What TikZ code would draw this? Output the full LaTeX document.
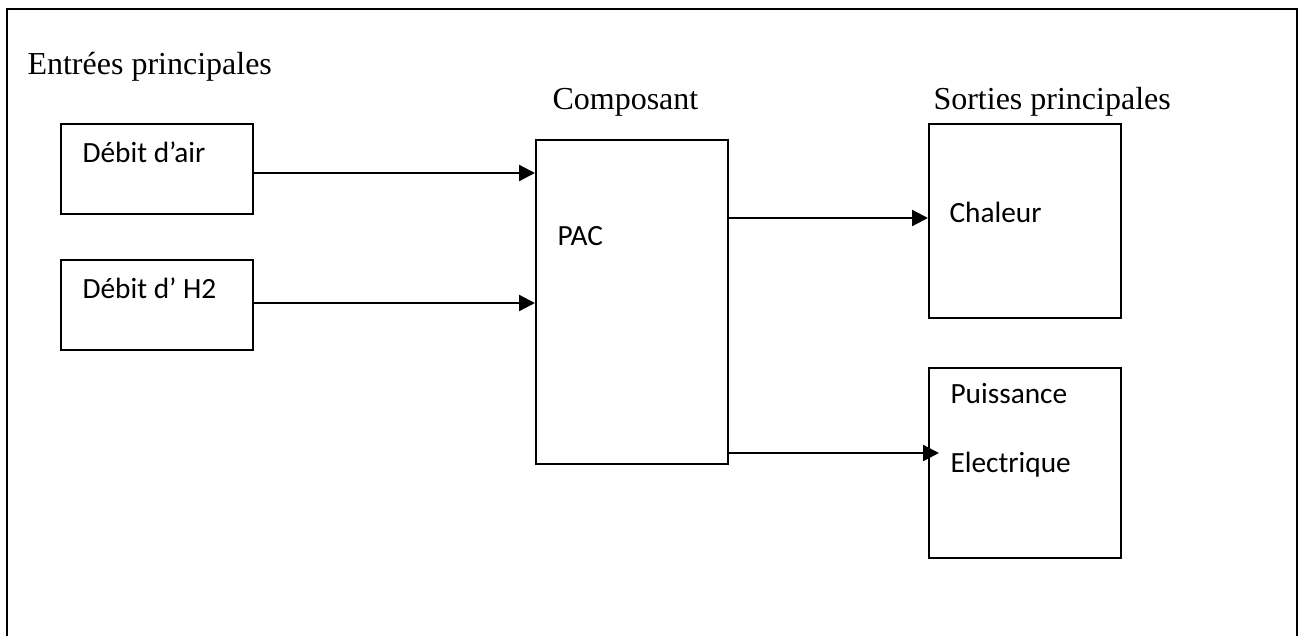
\documentclass[tikz,border=0pt]{standalone}
\usepackage{fontspec}
\setmainfont{Liberation Serif}
\newfontfamily\boxfont{Carlito}
\usetikzlibrary{arrows.meta}
\begin{document}
\begin{tikzpicture}[x=0.375pt,y=-0.375pt,
  blk/.style={draw,line width=0.8pt,minimum width=72pt,anchor=north west,inner sep=0pt},
  title/.style={anchor=base west,inner sep=0pt,font=\fontsize{12pt}{14pt}\selectfont},
  lbl/.style={anchor=base west,inner sep=0pt,font=\boxfont\fontsize{11pt}{13pt}\selectfont},
  conn/.style={line width=0.85pt,-{Triangle[length=6pt,width=6pt]}}]
\useasboundingbox (0,0) rectangle (1303,636);
\draw[line width=0.8pt] (7,636) -- (7,9) -- (1297,9) -- (1297,636);
% boxes
\node[blk,minimum height=33.75pt] (air) at (60,123) {};
\node[blk,minimum height=33.75pt] (h2) at (60,259) {};
\node[blk,minimum height=121.5pt] (pac) at (535,139) {};
\node[blk,minimum height=72.75pt] (chal) at (928,123) {};
\node[blk,minimum height=71.25pt] (elec) at (928,367) {};
% titles
\node[title] (t1) at (27,74) {Entrées principales};
\node[title] (t2) at (552,109) {Composant};
\node[title] (t3) at (933,109) {Sorties principales};
% box labels
\node[lbl] (l1) at (82,162) {Débit d’air};
\node[lbl] (l2) at (82,298) {Débit d’ H2};
\node[lbl] (l3) at (557,245) {PAC};
\node[lbl] (l4) at (949,222) {Chaleur};
\node[lbl] (l5) at (950,403) {Puissance};
\node[lbl] (l6) at (950,472) {Electrique};
% connectors
\draw[conn] (air.east |- 0,173) -- (pac.west |- 0,173);
\draw[conn] (h2.east |- 0,303) -- (pac.west |- 0,303);
\draw[conn] (pac.east |- 0,218) -- (chal.west |- 0,218);
\coordinate (etip) at (939,453);
\draw[conn] (pac.east |- 0,453) -- (etip);
\end{tikzpicture}
\end{document}
